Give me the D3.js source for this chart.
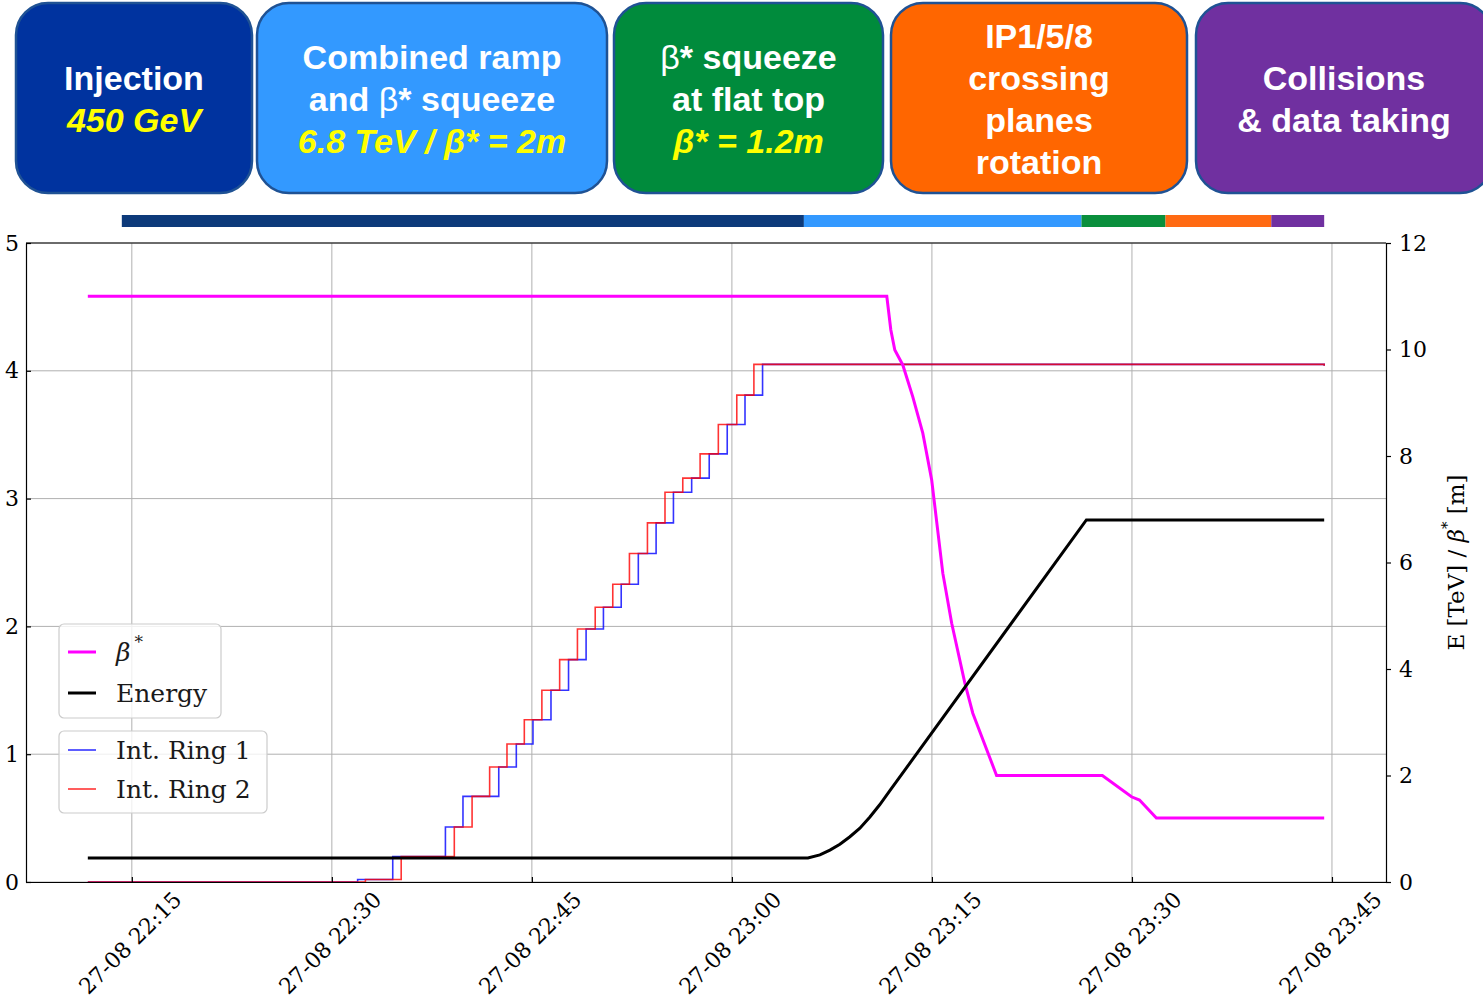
<!DOCTYPE html>
<html>
<head>
<meta charset="utf-8">
<script src="https://cdn.jsdelivr.net/npm/d3@7"></script>
<style>
  body { margin: 0; background: #fff; }
  svg { display: block; }
  .box-text { font-family: "Liberation Sans", Arial, sans-serif; font-weight: bold; font-size: 34px; }
  .axis text { font-family: "DejaVu Serif", serif; font-size: 22px; fill: #000; }
  .axis path, .axis line { stroke: #000; stroke-width: 1.2; }
  .grid line { stroke: #b0b0b0; stroke-width: 1; }
  .legend text { font-family: "DejaVu Serif", serif; font-size: 25px; fill: #1a1a1a; }
</style>
</head>
<body>
<svg id="chart" width="1483" height="1000"></svg>
<script>
// ---- data (27 Aug 2022) ----
const day = "2022-08-27 ";

// intensity steps, shared levels, [1e14 p]
const ringLevels = [0.02, 0.2, 0.43, 0.67, 0.9, 1.08, 1.27, 1.5, 1.74, 1.98, 2.15, 2.33, 2.57, 2.81, 3.05, 3.16, 3.35, 3.58, 3.81, 4.05];
const ring1Times = ["22:31:56", "22:34:34", "22:38:31", "22:39:50", "22:42:31", "22:43:50", "22:45:05", "22:46:26", "22:47:45", "22:49:04",
                    "22:50:22", "22:51:42", "22:52:59", "22:54:19", "22:55:37", "22:56:59", "22:58:18", "22:59:39", "23:00:59", "23:02:18"];
const ring2Times = ["22:32:31", "22:35:12", "22:39:11", "22:40:31", "22:41:50", "22:43:08", "22:44:26", "22:45:45", "22:47:05", "22:48:25",
                    "22:49:45", "22:51:04", "22:52:19", "22:53:40", "22:54:59", "22:56:19", "22:57:37", "22:58:59", "23:00:22", "23:01:39"];
const ringStart = "22:11:42";
const ringTailTimes = ["23:44:25"];
const ringTailValues = [4.04];

// energy [TeV]
const energyTimes = ["22:11:42", "23:05:42", "23:06:36", "23:07:21", "23:08:06", "23:08:51", "23:09:36", "23:10:21", "23:11:05", "23:11:50", "23:26:35", "23:44:25"];
const energyValues = [0.45, 0.45, 0.51, 0.60, 0.71, 0.85, 1.01, 1.22, 1.45, 1.71, 6.80, 6.80];

// beta* [m]
const betaTimes = ["22:11:42", "23:11:37", "23:11:55", "23:12:13", "23:12:49", "23:13:34", "23:14:19", "23:14:59", "23:15:49",
                   "23:16:29", "23:17:28", "23:18:04", "23:19:51", "23:27:47", "23:29:58", "23:30:34", "23:31:50", "23:44:25"];
const betaValues = [11.0, 11.0, 10.37, 9.99, 9.71, 9.11, 8.43, 7.55, 5.80, 4.86, 3.74, 3.17, 2.0, 2.0, 1.60, 1.54, 1.2, 1.2];

// phases
const phaseStarts = ["22:14:15", "23:05:24", "23:26:13", "23:32:31", "23:40:27"];
const phaseEnd = "23:44:25";
const phaseTitles = [["Injection"], ["Combined ramp", "and β* squeeze"], ["β* squeeze", "at flat top"],
                     ["IP1/5/8", "crossing", "planes", "rotation"], ["Collisions", "& data taking"]];
const phaseValues = ["450 GeV", "6.8 TeV / β* = 2m", "β* = 1.2m", null, null];

// ---- styles / layout ----
const boxFill = ["#00339f", "#3399ff", "#008b3c", "#ff6600", "#7030a0"];
const barFill = ["#0d3a7a", "#3399ff", "#0a8f3c", "#ff6a13", "#7030a0"];
const boxX = [16, 257, 614, 891, 1196];
const boxW = [236, 350, 269, 296, 296];

const plot = { left: 26, right: 1386, top: 243, bottom: 882 };

const parse = d3.timeParse("%Y-%m-%d %H:%M:%S");
const hms = s => parse(day + s);

const svg = d3.select("#chart");

// x domain like matplotlib: data extent + 5% margins
let allTimes = [ringStart].concat(energyTimes, betaTimes, ringTailTimes).map(hms);
let ext = d3.extent(allTimes);
let pad = (ext[1] - ext[0]) * 0.05;
const x = d3.scaleTime().domain([new Date(+ext[0] - pad), new Date(+ext[1] + pad)]).range([plot.left, plot.right]);
const yL = d3.scaleLinear().domain([0, 5]).range([plot.bottom, plot.top]);
const yR = d3.scaleLinear().domain([0, 12]).range([plot.bottom, plot.top]);

// ---- phase boxes ----
let boxes = svg.append("g");
phaseTitles.forEach((titles, i) => {
  boxes.append("rect")
    .attr("x", boxX[i]).attr("y", 3)
    .attr("width", boxW[i]).attr("height", 190)
    .attr("rx", 32)
    .attr("fill", boxFill[i])
    .attr("stroke", "#1f5294")
    .attr("stroke-width", 2.5);

  let lines = titles.map(t => ({ text: t, yellow: false }));
  if (phaseValues[i]) lines.push({ text: phaseValues[i], yellow: true });
  let cx = boxX[i] + boxW[i] / 2;
  let y0 = 99 - (lines.length - 1) * 41.7 / 2;
  lines.forEach((ln, j) => {
    let t = boxes.append("text")
      .attr("class", "box-text")
      .attr("x", cx)
      .attr("y", y0 + j * 41.7)
      .attr("text-anchor", "middle")
      .attr("dominant-baseline", "central");
    if (ln.yellow) {
      t.attr("fill", "#ffff00").attr("font-style", "italic").text(ln.text);
    } else {
      t.attr("fill", "#fff");
      ln.text.split("β").forEach((part, k) => {
        if (k > 0) t.append("tspan").attr("font-weight", "normal").text("β");
        t.append("tspan").text(part);
      });
    }
  });
});

// ---- phase bar ----
let phaseBounds = phaseStarts.concat([phaseEnd]).map(hms);
svg.append("g").selectAll("rect")
  .data(phaseStarts)
  .enter().append("rect")
  .attr("x", (d, i) => x(phaseBounds[i]))
  .attr("width", (d, i) => x(phaseBounds[i + 1]) - x(phaseBounds[i]))
  .attr("y", 215)
  .attr("height", 12)
  .attr("fill", (d, i) => barFill[i]);

// ---- grid ----
let xTicks = x.ticks(d3.timeMinute.every(15));
let grid = svg.append("g").attr("class", "grid");
grid.selectAll(".gx").data(xTicks).enter().append("line")
  .attr("x1", d => x(d)).attr("x2", d => x(d))
  .attr("y1", plot.top).attr("y2", plot.bottom);
grid.selectAll(".gy").data(yL.ticks(5)).enter().append("line")
  .attr("x1", plot.left).attr("x2", plot.right)
  .attr("y1", d => yL(d)).attr("y2", d => yL(d));

// ---- intensity (left axis) ----
function ringSeries(times) {
  let pts = [{ t: hms(ringStart), v: 0 }];
  times.forEach((s, i) => pts.push({ t: hms(s), v: ringLevels[i] }));
  ringTailTimes.forEach((s, i) => pts.push({ t: hms(s), v: ringTailValues[i] }));
  return pts;
}
let stepLine = d3.line()
  .x(d => x(d.t))
  .y(d => yL(d.v))
  .curve(d3.curveStepAfter);

svg.append("path")
  .datum(ringSeries(ring1Times))
  .attr("d", stepLine)
  .attr("fill", "none")
  .attr("stroke", "#0000ff")
  .attr("stroke-opacity", 0.8)
  .attr("stroke-width", 1.6);

svg.append("path")
  .datum(ringSeries(ring2Times))
  .attr("d", stepLine)
  .attr("fill", "none")
  .attr("stroke", "#ff0000")
  .attr("stroke-opacity", 0.8)
  .attr("stroke-width", 1.6);

// ---- beta* and energy (right axis) ----
let rLine = d3.line()
  .x(d => x(d.t))
  .y(d => yR(d.v));

svg.append("path")
  .datum(betaTimes.map((s, i) => ({ t: hms(s), v: betaValues[i] })))
  .attr("d", rLine)
  .attr("fill", "none")
  .attr("stroke", "#ff00ff")
  .attr("stroke-width", 3);

svg.append("path")
  .datum(energyTimes.map((s, i) => ({ t: hms(s), v: energyValues[i] })))
  .attr("d", rLine)
  .attr("fill", "none")
  .attr("stroke", "#000")
  .attr("stroke-width", 3);

// ---- axes ----
svg.append("g")
  .attr("class", "axis")
  .attr("transform", `translate(0,${plot.bottom})`)
  .call(d3.axisBottom(x).ticks(d3.timeMinute.every(15)).tickSize(-5).tickSizeOuter(0)
    .tickFormat(d3.timeFormat("%d-%m %H:%M")))
  .selectAll("text")
  .attr("y", 0)
  .attr("dy", null)
  .attr("text-anchor", "middle")
  .attr("dominant-baseline", "central")
  .attr("transform", "translate(-2,61) rotate(-45)");

svg.append("g")
  .attr("class", "axis")
  .attr("transform", `translate(${plot.left},0)`)
  .call(d3.axisLeft(yL).ticks(5).tickSize(-5).tickSizeOuter(0).tickPadding(7));

svg.append("g")
  .attr("class", "axis")
  .attr("transform", `translate(${plot.right},0)`)
  .call(d3.axisRight(yR).ticks(6).tickSize(5).tickSizeOuter(0).tickPadding(8));

svg.append("line")
  .attr("x1", plot.left).attr("x2", plot.right)
  .attr("y1", plot.top).attr("y2", plot.top)
  .attr("stroke", "#000").attr("stroke-width", 1.2);

// right axis label
let rl = svg.append("text")
  .attr("transform", `translate(1456,${(plot.top + plot.bottom) / 2}) rotate(-90)`)
  .attr("text-anchor", "middle")
  .attr("dominant-baseline", "central")
  .attr("font-family", "DejaVu Serif, serif")
  .attr("font-size", 23)
  .attr("fill", "#000");
rl.append("tspan").text("E [TeV] / ");
rl.append("tspan").attr("font-style", "italic").text("β");
rl.append("tspan").attr("font-size", 15).attr("dy", -9).text("*");
rl.append("tspan").attr("dy", 9).text(" [m]");

// ---- legends ----
function legend(bx, by, bw, bh, entries) {
  let g = svg.append("g").attr("class", "legend");
  g.append("rect")
    .attr("x", bx).attr("y", by).attr("width", bw).attr("height", bh)
    .attr("rx", 5)
    .attr("fill", "#fff").attr("fill-opacity", 0.8)
    .attr("stroke", "#cccccc").attr("stroke-width", 1.2);
  entries.forEach(e => {
    g.append("line")
      .attr("x1", bx + 9).attr("x2", bx + 37)
      .attr("y1", e.y).attr("y2", e.y)
      .attr("stroke", e.color).attr("stroke-width", e.width).attr("stroke-opacity", e.opacity || 1);
    let t = g.append("text")
      .attr("x", bx + 57).attr("y", e.y)
      .attr("dominant-baseline", "central");
    if (e.beta) {
      t.append("tspan").attr("font-style", "italic").text("β");
      t.append("tspan").attr("font-size", 17).attr("dx", 4).attr("dy", -10).text("*");
    } else {
      t.text(e.label);
    }
  });
}
legend(59, 624, 162, 94, [
  { y: 652, color: "#ff00ff", width: 3, beta: true },
  { y: 693, color: "#000", width: 3, label: "Energy" }
]);
legend(59, 731, 208, 82, [
  { y: 750, color: "#0000ff", width: 1.6, opacity: 0.8, label: "Int. Ring 1" },
  { y: 789, color: "#ff0000", width: 1.6, opacity: 0.8, label: "Int. Ring 2" }
]);
</script>
</body>
</html>
